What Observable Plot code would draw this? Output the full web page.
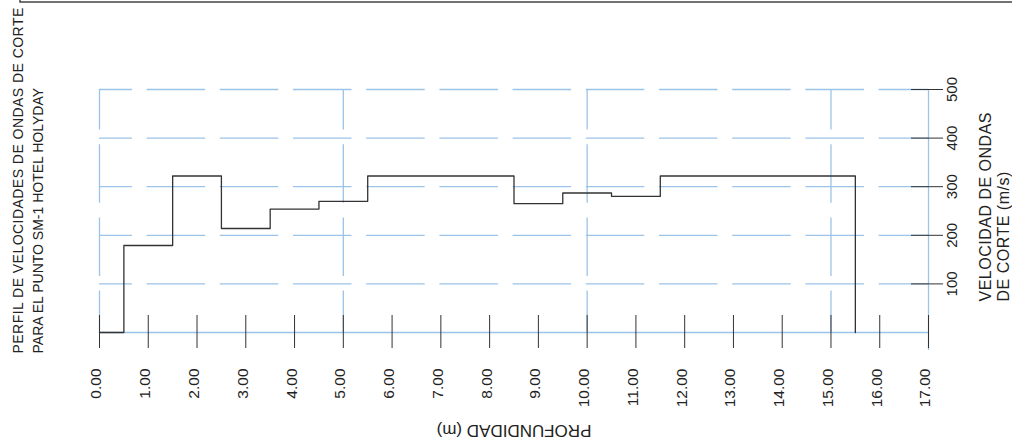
<!DOCTYPE html>
<html><head><meta charset="utf-8">
<script src="https://cdn.jsdelivr.net/npm/d3@7"></script>
<script src="https://cdn.jsdelivr.net/npm/@observablehq/plot@0.6"></script>
<style>body{margin:0;background:#fff}</style>
</head><body><div id="chart"></div>
<script>
// Layer top depths (m) and shear-wave velocity (m/s) of each layer
const layerTop = [0, 0.5, 1.5, 2.5, 3.5, 4.5, 5.5, 8.5, 9.5, 10.5, 11.5, 15.5];
const velocity = [0, 179, 322, 214, 254, 270, 322, 265, 287, 280, 322, 0];
const depthTicks = [0, 1, 2, 3, 4, 5, 6, 7, 8, 9, 10, 11, 12, 13, 14, 15, 16, 17];
const velocityTicks = [100, 200, 300, 400, 500];
const gridDepths = [0, 5, 10, 15];
const titleLines = ["PERFIL DE VELOCIDADES DE ONDAS DE CORTE", "PARA EL PUNTO SM-1 HOTEL HOLYDAY"];
const yTitleLines = ["VELOCIDAD DE ONDAS", "DE CORTE (m/s)"];
const xTitle = "PROFUNDIDAD (m)";

const profile = layerTop.map((d, i) => ({depth: d, vs: velocity[i]}));

const BLUE = "#9cc3e8";
const INK = "#333";
const TEXT = "#222";
const FONT = "Liberation Sans, Arial, sans-serif";

const chart = Plot.plot({
  width: 1012,
  height: 440,
  marginLeft: 99,
  marginRight: 84,
  marginTop: 89,
  marginBottom: 108,
  style: {fontFamily: FONT, background: "#fff", overflow: "visible", color: TEXT},
  x: {domain: [0, 17], axis: null},
  y: {domain: [0, 500], axis: null},
  marks: [
    // dashed grid
    Plot.ruleY(velocityTicks, {y: d => d, stroke: BLUE, strokeWidth: 1.3, strokeDasharray: "58.5,14.7", strokeDashoffset: 25.6}),
    Plot.ruleX(gridDepths, {x: d => d, stroke: BLUE, strokeWidth: 1.3, strokeDasharray: "58.5,14.7", strokeDashoffset: 18}),
    // baseline and right axis
    Plot.ruleY([0], {y: d => d, stroke: BLUE, strokeWidth: 1.5}),
    Plot.ruleX([17], {x: d => d, stroke: BLUE, strokeWidth: 1.3, insetBottom: -18}),
    // ticks
    Plot.ruleX(depthTicks, {x: d => d, stroke: INK, strokeWidth: 1, insetTop: 226, insetBottom: -16}),
    Plot.ruleY(velocityTicks, {y: d => d, stroke: INK, strokeWidth: 1, insetLeft: 812, insetRight: -15}),
    // step profile
    Plot.line(profile, {x: "depth", y: "vs", curve: "step-after", stroke: INK, strokeWidth: 1.3}),
    // tick labels
    Plot.text(depthTicks, {x: d => d, text: d => d.toFixed(2), frameAnchor: "bottom", rotate: -90, textAnchor: "end", lineAnchor: "middle", dy: 36, dx: -3, fontSize: 15.5, fill: TEXT}),
    Plot.text(velocityTicks, {y: d => d, text: d => String(d), frameAnchor: "right", rotate: -90, textAnchor: "middle", lineAnchor: "middle", dx: 24, fontSize: 15, fill: TEXT}),
    // titles
    Plot.text([titleLines[0]], {text: d => d, frameAnchor: "bottom-left", rotate: -90, textAnchor: "start", lineAnchor: "middle", dx: -81, dy: 21, fontSize: 14, fill: TEXT}),
    Plot.text([titleLines[1]], {text: d => d, frameAnchor: "bottom-left", rotate: -90, textAnchor: "start", lineAnchor: "middle", dx: -61, dy: 21, fontSize: 14, fill: TEXT}),
    Plot.text([yTitleLines[0]], {text: d => d, frameAnchor: "bottom-right", rotate: -90, textAnchor: "start", lineAnchor: "middle", dx: 57.5, dy: -31, fontSize: 16, fill: TEXT}),
    Plot.text([yTitleLines[1]], {text: d => d, frameAnchor: "bottom-right", rotate: -90, textAnchor: "start", lineAnchor: "middle", dx: 75.5, dy: -31, fontSize: 16, fill: TEXT}),
    Plot.text([xTitle], {text: d => d, frameAnchor: "bottom", rotate: 180, textAnchor: "middle", lineAnchor: "middle", dy: 98, fontSize: 17, fill: TEXT})
  ]
});

// letter spacing of the titles
const spacing = new Map([[titleLines[0], "0.46px"], [yTitleLines[0], "0.5px"], [yTitleLines[1], "0.5px"]]);
d3.select(chart).selectAll("text")
  .filter(function() { return spacing.has(this.textContent); })
  .attr("letter-spacing", function() { return spacing.get(this.textContent); });

// frame border of the sheet at the top
d3.select(chart).append("path")
  .attr("d", "M20,0V2H1012")
  .attr("fill", "none")
  .attr("stroke", "#444")
  .attr("stroke-width", 1.5);

document.getElementById("chart").appendChild(chart);
</script>
</body></html>
